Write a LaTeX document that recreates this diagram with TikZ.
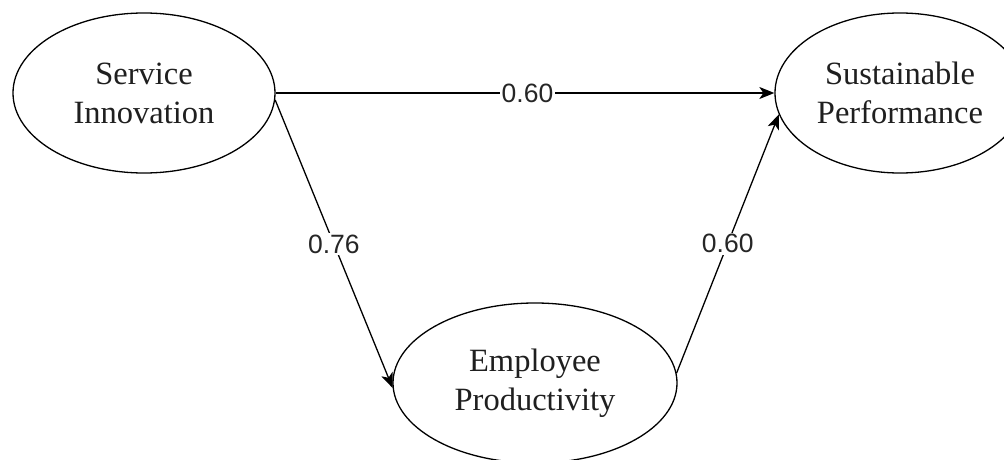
\documentclass[tikz,border=0pt]{standalone}
\usepackage{fontspec}
\setmainfont{Liberation Serif}
\newfontfamily\lblfont{Liberation Sans}
\usetikzlibrary{shapes.geometric,arrows.meta}
\begin{document}
\begin{tikzpicture}[x=1pt,y=-1pt,
  construct/.style={ellipse,draw,line width=1.3pt,inner sep=0pt,align=center,
    font=\fontsize{32.5}{39}\selectfont,text=black!88},
  path/.style={line width=1.3pt,-{Stealth[length=15pt,width=12pt,inset=4pt]}},
  coef/.style={fill=white,inner sep=1.5pt,font=\lblfont\fontsize{26.5}{30}\selectfont,text=black!85}]
\useasboundingbox (0,0) rectangle (1004,460);
\clip (0,0) rectangle (1004,460);
\node[construct,minimum width=262pt,minimum height=160pt] (si) at (144,93) {Service\\Innovation};
\node[construct,minimum width=250pt,minimum height=160pt] (sp) at (900,93) {Sustainable\\Performance};
\node[construct,minimum width=284pt,minimum height=160pt] (ep) at (535,383) {Employee\\Productivity};
\draw[path] (si.east) -- node[coef,pos=0.505]{0.60} (sp.west);
\draw[path] (si.-3) -- node[coef,pos=0.5]{0.76} (ep.182);
\draw[path] (ep.4) -- node[coef,pos=0.5]{0.60} (sp.190);
\end{tikzpicture}
\end{document}
